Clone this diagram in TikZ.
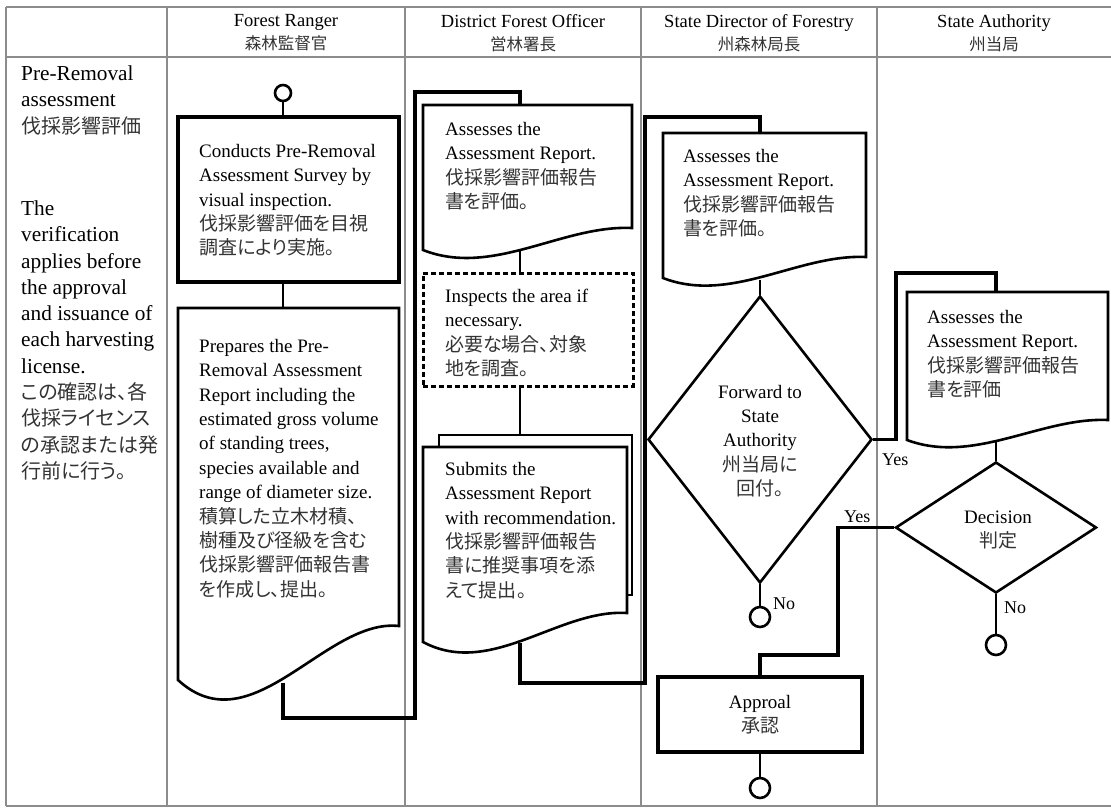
\documentclass[tikz,border=0pt]{standalone}
\usepackage{fontspec}
\setmainfont{Liberation Serif}
\newfontfamily\jpf[RawFeature=+palt]{Noto Sans CJK JP}
\usetikzlibrary{shapes.geometric}
\newcommand{\J}[1]{{\jpf\color{black!80}#1}}
\newcommand{\LJ}[1]{{\fontsize{20}{26.3}\selectfont\jpf\color{black!80}#1}}
\newcommand{\bfnt}{\fontsize{19}{24.4}\selectfont}
\newcommand{\lfnt}{\fontsize{21.3}{26.3}\selectfont}
\newcommand{\docshape}[6][]{%
  \pgfmathsetmacro\dsW{#3-#2}%
  \pgfmathsetmacro\dsH{#6-#5}%
  \pgfmathsetmacro\dsAx{#2+\dsW/3}%
  \pgfmathsetmacro\dsAy{#6+1.25*\dsH}%
  \pgfmathsetmacro\dsBx{#2+2*\dsW/3}%
  \pgfmathsetmacro\dsBy{#5-0.15*\dsH}%
  \draw[docline,#1] (#2,#6) -- (#2,#4) -- (#3,#4) -- (#3,#5) .. controls (\dsBx,\dsBy) and (\dsAx,\dsAy) .. (#2,#6) -- cycle;%
}
\tikzset{
  tabline/.style={draw=black!45, line width=1.4pt},
  docline/.style={line width=2.6pt, line join=miter},
  conn/.style={line width=3.2pt, line join=miter},
  thinconn/.style={line width=2.6pt},
  procbox/.style={draw, rectangle, line width=3.6pt, inner sep=0pt, align=center, font=\bfnt},
  dashbox/.style={draw, rectangle, line width=3pt, dash pattern=on 5pt off 3pt, inner sep=0pt},
  dec/.style={draw, diamond, line width=2.6pt, inner sep=0pt},
  term/.style={draw, circle, line width=2.6pt, inner sep=0pt, minimum size=20pt},
  txt/.style={anchor=north west, inner sep=0pt, align=left, font=\bfnt},
  ctxt/.style={inner sep=0pt, align=center, font=\bfnt},
  lbl/.style={inner sep=0pt, anchor=base west, font=\fontsize{18}{20}\selectfont},
  hdr/.style={anchor=north, inner sep=0pt, align=center, font=\fontsize{18.5}{23}\selectfont},
}
\begin{document}
\begin{tikzpicture}[x=1pt,y=-1pt]
\useasboundingbox (0,0) rectangle (1111,807);
% table
\draw[tabline] (6,7) -- (1111,7);
\draw[tabline] (6,806) -- (1111,806);
\draw[tabline] (6,7) -- (6,806);
\draw[tabline] (6,57) -- (1111,57);
\foreach \xx in {167,405,641,877} \draw[tabline] (\xx,7) -- (\xx,806);
% headers
\node[hdr] (h1) at (286,14) {Forest Ranger\\{\fontsize{16.5}{23}\J{森林監督官}}};
\node[hdr] (h2) at (523,14) {District Forest Officer\\{\fontsize{16.5}{23}\J{営林署長}}};
\node[hdr] (h3) at (759,14) {State Director of Forestry\\{\fontsize{16.5}{23}\J{州森林局長}}};
\node[hdr] (h4) at (994,14) {State Authority\\{\fontsize{16.5}{23}\J{州当局}}};
% left column
\node[txt, font=\lfnt] (l1) at (21,65.5) {Pre-Removal\\assessment\\\LJ{伐採影響評価}};
\node[txt, font=\lfnt] (l2) at (21,200.5) {The\\verification\\applies before\\the approval\\and issuance of\\each harvesting\\license.\\\LJ{この確認は、各}\\\LJ{伐採ライセンス}\\\LJ{の承認または発}\\\LJ{行前に行う。}};
% Forest Ranger
\node[term, minimum size=16pt] (c0) at (283,93) {};
\node[procbox, minimum width=221pt, minimum height=165pt] (b1) at (288.5,199.5) {};
\node[txt] (t1) at (199,144) {Conducts Pre-Removal\\Assessment Survey by\\visual inspection.\\\J{伐採影響評価を目視}\\\J{調査により実施。}};
\draw[thinconn] (c0.south) -- (c0.south |- b1.north);
\docshape{178}{399}{308}{626}{680}
\coordinate (d1t) at (283,308);
\coordinate (d1b) at (283,683);
\node[txt] (t2) at (199,339) {Prepares the Pre-\\Removal Assessment\\Report including the\\estimated gross volume\\of standing trees,\\species available and\\range of diameter size.\\\J{積算した立木材積、}\\\J{樹種及び径級を含む}\\\J{伐採影響評価報告書}\\\J{を作成し、提出。}};
\draw[thinconn] (b1.south -| d1t) -- (d1t);
% District Forest Officer
\docshape{423}{632}{105}{228}{250}
\coordinate (d2t) at (520,105);
\coordinate (d2b) at (520,250);
\node[txt] (t3) at (445,122) {Assesses the\\Assessment Report.\\\J{伐採影響評価報告}\\\J{書を評価。}};
\coordinate (j1) at (415,718);
\coordinate (k1) at (415,92);
\draw[conn] (d1b) |- (j1) -- (k1) -| (d2t);
\node[dashbox, minimum width=210pt, minimum height=113pt] (dsh) at (528,329.5) {};
\node[txt] (t4) at (445,289) {Inspects the area if\\necessary.\\\J{必要な場合、対象}\\\J{地を調査。}};
\draw[thinconn] (d2b) -- (d2b |- dsh.north);
\coordinate (d3t) at (520,435);
\draw[thinconn] (dsh.south -| d3t) -- (d3t);
\draw[docline] (439,447) -- (439,435) -- (632,435) -- (632,595) -- (627,595);
\docshape{423}{627}{447}{613}{642}
\coordinate (d3b) at (520,643);
\node[txt] (t5) at (445,462) {Submits the\\Assessment Report\\with recommendation.\\\J{伐採影響評価報告}\\\J{書に推奨事項を添}\\\J{えて提出。}};
% State Director
\coordinate (j2) at (645,683);
\coordinate (k2) at (645,117);
\coordinate (d4t) at (760,133);
\draw[conn] (d3b) |- (j2) -- (k2) -| (d4t);
\docshape{663}{866}{133}{257}{278}
\coordinate (d4b) at (760,280);
\node[txt] (t6) at (683,149) {Assesses the\\Assessment Report.\\\J{伐採影響評価報告}\\\J{書を評価。}};
\node[dec, minimum width=224pt, minimum height=287pt] (fw) at (760,439.5) {};
\node[ctxt] (t7) at (760,441) {Forward to\\State\\Authority\\\J{州当局に}\\\J{回付。}};
\draw[thinconn] (d4b) -- (fw.north);
\node[term] (c1) at (760,617) {};
\draw[thinconn] (fw.south) -- (c1.north);
\node[lbl] (n1) at (773,609) {No};
% State Authority
\coordinate (k3) at (896,273);
\coordinate (d5t) at (996,292);
\draw[conn] (fw.east) -| (k3) -| (d5t);
\node[lbl] (y1) at (882,465) {Yes};
\docshape{907}{1108}{292}{420}{440}
\coordinate (d5b) at (996,442);
\node[txt] (t8) at (927,310) {Assesses the\\Assessment Report.\\\J{伐採影響評価報告}\\\J{書を評価}};
\node[dec, minimum width=201pt, minimum height=131pt] (dc) at (996,527.5) {};
\node[ctxt] (t9) at (998,530) {Decision\\\J{判定}};
\draw[thinconn] (d5b) -- (dc.north);
\node[term] (c2) at (996,645) {};
\draw[thinconn] (dc.south) -- (c2.north);
\node[lbl] (n2) at (1004,613) {No};
% Approval
\node[procbox, minimum width=204pt, minimum height=75pt] (ap) at (760,714.5) {Approal\\\J{承認}};
\coordinate (k4) at (838,655);
\draw[conn] (dc.west) -| (k4) -| (ap.north);
\node[lbl] (y2) at (844,522) {Yes};
\node[term] (c3) at (760,788) {};
\draw[thinconn] (ap.south) -- (c3.north);
\end{tikzpicture}
\end{document}
